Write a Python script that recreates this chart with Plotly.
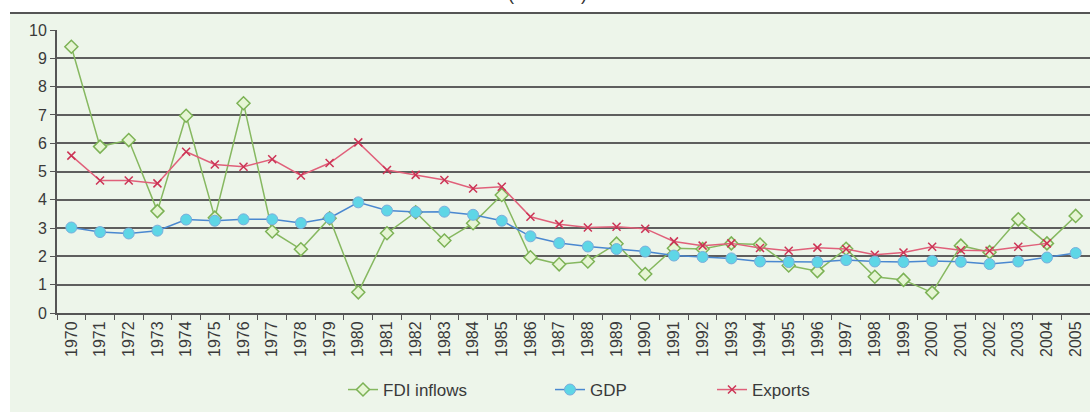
import plotly.graph_objects as go

years = [str(y) for y in range(1970, 2006)]

fdi_inflows = [9.41, 5.88, 6.11, 3.60, 6.97, 3.37, 7.41, 2.88, 2.25, 3.35,
               0.73, 2.82, 3.56, 2.56, 3.17, 4.17, 1.97, 1.72, 1.82, 2.45,
               1.38, 2.29, 2.26, 2.46, 2.42, 1.68, 1.48, 2.27, 1.28, 1.17,
               0.72, 2.38, 2.15, 3.31, 2.46, 3.43]

gdp = [3.02, 2.86, 2.81, 2.91, 3.30, 3.26, 3.31, 3.31, 3.18, 3.36,
       3.91, 3.62, 3.57, 3.58, 3.47, 3.26, 2.71, 2.47, 2.35, 2.26,
       2.17, 2.03, 1.98, 1.93, 1.82, 1.80, 1.80, 1.87, 1.82, 1.80,
       1.84, 1.81, 1.73, 1.82, 1.96, 2.12]

exports = [5.56, 4.68, 4.68, 4.58, 5.70, 5.25, 5.17, 5.43, 4.86, 5.30,
           6.03, 5.05, 4.88, 4.70, 4.40, 4.46, 3.40, 3.14, 3.02, 3.05,
           2.98, 2.53, 2.38, 2.46, 2.30, 2.20, 2.31, 2.26, 2.06, 2.14,
           2.34, 2.22, 2.20, 2.34, 2.46, None]

y_ticks = list(range(0, 11))

FONT = "Liberation Sans, Arial, sans-serif"

fig = go.Figure()

fig.add_trace(go.Scatter(
    x=years, y=fdi_inflows, name="FDI inflows", mode="lines+markers",
    line=dict(color="#86b860", width=1.5),
    marker=dict(symbol="diamond", size=10, color="#e6f5d4",
                line=dict(color="#7cb255", width=1.5)),
    legend="legend",
))
fig.add_trace(go.Scatter(
    x=years, y=exports, name="Exports", mode="lines+markers",
    line=dict(color="#e0607a", width=1.5),
    marker=dict(symbol="x-thin", size=8,
                line=dict(color="#cc3355", width=1.5)),
    legend="legend3",
))
fig.add_trace(go.Scatter(
    x=years, y=gdp, name="GDP", mode="lines+markers",
    line=dict(color="#4a88d0", width=1.5),
    marker=dict(symbol="circle", size=11, color="#5ed6e6",
                line=dict(color="#7aaedc", width=1)),
    legend="legend2",
))

W, H = 1090, 412
L, R, T, B = 57, 0, 30, 99
pw = W - L - R
ph = H - T - B


def px_x(p):
    return (p - L) / pw


def px_y(p):
    return (H - B - p) / ph


fig.update_layout(
    width=W, height=H,
    margin=dict(l=L, r=R, t=T, b=B),
    paper_bgcolor="white",
    plot_bgcolor="#fdfdf8",
    font=dict(family=FONT, size=15, color="#3a3a3a"),
    showlegend=True,
    shapes=[
        dict(type="rect", xref="paper", yref="paper",
             x0=px_x(10), x1=px_x(1092), y0=px_y(414), y1=px_y(13),
             fillcolor="#edf5ea", line=dict(width=0), layer="below"),
        dict(type="line", xref="paper", yref="paper",
             x0=px_x(10), x1=px_x(1092), y0=px_y(13), y1=px_y(13),
             line=dict(color="#555555", width=2)),
    ],
    annotations=[
        dict(text="(Per cent)", xref="paper", yref="paper",
             x=px_x(547), y=px_y(6), xanchor="center", yanchor="bottom",
             showarrow=False, font=dict(size=18, color="#333333")),
    ],
    legend=dict(orientation="h", x=px_x(343), y=px_y(390),
                xanchor="left", yanchor="middle",
                bgcolor="rgba(0,0,0,0)", font=dict(size=17)),
    legend2=dict(orientation="h", x=px_x(550), y=px_y(390),
                 xanchor="left", yanchor="middle",
                 bgcolor="rgba(0,0,0,0)", font=dict(size=17)),
    legend3=dict(orientation="h", x=px_x(712), y=px_y(390),
                 xanchor="left", yanchor="middle",
                 bgcolor="rgba(0,0,0,0)", font=dict(size=17)),
)

fig.update_xaxes(
    type="category", categoryorder="array", categoryarray=years,
    range=[-0.5, len(years) - 0.5],
    tickangle=-90, tickfont=dict(size=16),
    showgrid=False, showline=True, linecolor="#555555", linewidth=2,
    ticks="outside", tickson="boundaries", ticklen=5, tickcolor="#555555",
)
fig.update_yaxes(
    range=[0, 10], tickvals=y_ticks, ticktext=[str(v) for v in y_ticks],
    tickfont=dict(size=16),
    showgrid=True, gridcolor="#5e5e5e", gridwidth=2,
    zeroline=False,
    showline=True, linecolor="#555555", linewidth=2,
    ticks="outside", ticklen=5, tickcolor="#555555",
)

fig.write_html(
    "out.html",
    config={"displayModeBar": False},
    post_script="document.body.style.margin='0';"
                "document.body.style.overflow='hidden';",
)
